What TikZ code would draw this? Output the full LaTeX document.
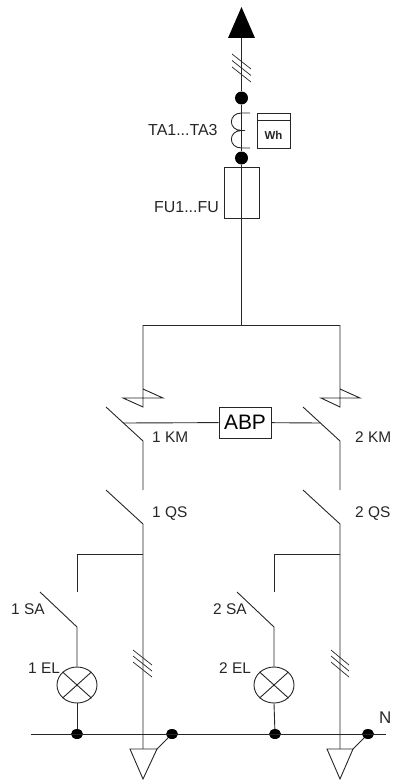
\documentclass[tikz,border=0pt]{standalone}
\usepackage{fontspec}
\usetikzlibrary{shapes.geometric}
\setmainfont{Liberation Sans}
\begin{document}
\begin{tikzpicture}[x=1bp,y=-1bp,
  wire/.style={line width=0.9bp,black!85},
  lab/.style={font=\fontsize{15.5}{15.5}\selectfont,text=black!85,inner sep=0pt,anchor=west},
  dot/.style={circle,fill=black,draw=none,minimum size=13bp,inner sep=0pt},
  busdot/.style={ellipse,fill=black,draw=none,minimum width=12bp,minimum height=10bp,inner sep=0pt},
  boxed/.style={draw=black!85,line width=0.9bp,fill=white,inner sep=0pt},
  lamp/.style={draw=black!85,line width=0.9bp,ellipse,minimum width=40bp,minimum height=36bp,inner sep=0pt}]
\useasboundingbox (0,0) rectangle (395,780);
% coordinates
\coordinate (apex) at (241.5,7);
\coordinate (baseL) at (228,38);
\coordinate (baseR) at (255,38);
\coordinate (base) at (241.5,38);
\node[dot] (d1) at (241.5,98) {};
\node[dot] (d2) at (241.5,158) {};
\coordinate (jn) at (241.5,325);
\coordinate (jl) at (143,325);
\coordinate (jr) at (340,325);
\fill[black] (apex) -- (baseR) -- (baseL) -- cycle;
\draw[wire] (base) -- (d1);
\foreach \y in {54,60.5,67} \draw[wire,line width=0.7bp] (232,\y) -- (251,\y+15);
% coil
\draw[wire] (250,113) -- (241.5,113) .. controls (228,113) and (228,130.5) .. (241.5,130.5)
  -- (245,130.5) -- (241.5,130.5) .. controls (228,130.5) and (228,148) .. (241.5,148) -- (250,148);
% meter
\node[boxed,minimum width=33bp,minimum height=35bp] (wh) at (273.5,130.5) {};
\draw[wire] (wh.west |- 0,120) -- (wh.east |- 0,120);
\node[inner sep=0pt,font=\fontsize{11.5}{12}\selectfont\bfseries,text=black!85] (twh) at (273.5,135) {Wh};
% fuse
\node[boxed,fill=none,minimum width=35bp,minimum height=51bp] (fuse) at (241.5,192.5) {};
\draw[wire] (d1) -- (d2) -- (jn);
\draw[wire] (jl) -- (jr);
% left KM
\coordinate (z1a) at (143,407); \coordinate (z1b) at (143,389);
\draw[wire] (jl) -- (z1a) -- (123,398) -- (163,398) -- (z1b);
\coordinate (s1t) at (106,407); \coordinate (s1b) at (143,441);
\coordinate (s1e) at (143,490);
\draw[wire] (s1t) -- (s1b) -- (s1e);
% right KM
\coordinate (z2a) at (340,407); \coordinate (z2b) at (340,389);
\draw[wire] (jr) -- (z2a) -- (321,398) -- (360,398) -- (z2b);
\coordinate (s2t) at (303,407); \coordinate (s2b) at (340,441);
\coordinate (s2e) at (340,490);
\draw[wire] (s2t) -- (s2b) -- (s2e);
% ABP
\node[boxed,minimum width=52bp,minimum height=31bp,font=\fontsize{21}{21}\selectfont,text=black] (abp) at (245,422.5) {ABP};
\coordinate (m1) at (123,423); \coordinate (m2) at (320,423);
\draw[wire] (m1) -- (abp);
\draw[wire] (abp) -- (m2);
% QS left branch
\coordinate (q1t) at (106,490); \coordinate (q1b) at (143,524);
\coordinate (g1) at (143,749);
\draw[wire] (q1t) -- (q1b) -- (g1);
\coordinate (b1) at (143,554);
\draw[wire] (b1) -- (77,554) -- (77,592);
\coordinate (sa1t) at (40,592); \coordinate (sa1b) at (77,627);
\node[lamp] (l1) at (77,685) {};
\draw[wire] (sa1t) -- (sa1b) -- (l1.north);
\draw[wire] (l1.north west) -- (l1.south east) (l1.north east) -- (l1.south west);
\node[busdot] (bd1) at (77,734) {};
\node[busdot] (bd2) at (172,734) {};
\draw[wire] (l1.south) -- (bd1);
\foreach \y in {650,656,662} \draw[wire,line width=0.7bp] (133,\y) -- (152,\y+15);
\draw[wire,fill=white] (130,749) -- (157,749) -- (143,779) -- cycle;
\draw[wire] (157,749) -- (bd2);
% QS right branch
\coordinate (q2t) at (303,490); \coordinate (q2b) at (340,524);
\coordinate (g2) at (340,749);
\draw[wire] (q2t) -- (q2b) -- (g2);
\coordinate (b2) at (340,554);
\draw[wire] (b2) -- (274,554) -- (274,592);
\coordinate (sa2t) at (237,592); \coordinate (sa2b) at (274,627);
\node[lamp] (l2) at (274,685) {};
\draw[wire] (sa2t) -- (sa2b) -- (l2.north);
\draw[wire] (l2.north west) -- (l2.south east) (l2.north east) -- (l2.south west);
\node[busdot] (bd3) at (275,734) {};
\node[busdot] (bd4) at (368,734) {};
\draw[wire] (l2.south) -- (bd3);
\foreach \y in {650,656,662} \draw[wire,line width=0.7bp] (331,\y) -- (349,\y+15);
\draw[wire,fill=white] (327,749) -- (353,749) -- (340,779) -- cycle;
\draw[wire] (353,749) -- (bd4);
% bus
\coordinate (busL) at (31,734); \coordinate (busR) at (386,734);
\draw[wire] (busL) -- (busR);
% labels
\node[lab,font=\fontsize{16}{16}\selectfont] (tTA) at (148,130) {TA1...TA3};
\node[lab,font=\fontsize{16}{16}\selectfont] (tFU) at (154,207) {FU1...FU};
\node[lab] (t1KM) at (152,437) {1 KM};
\node[lab] (t2KM) at (355,437) {2 KM};
\node[lab] (t1QS) at (152,514) {1 QS};
\node[lab] (t2QS) at (355,514) {2 QS};
\node[lab] (t1SA) at (11,609) {1 SA};
\node[lab] (t2SA) at (213,609) {2 SA};
\node[lab] (t1EL) at (28,668) {1 EL};
\node[lab] (t2EL) at (219,668) {2 EL};
\node[lab,font=\fontsize{17}{17}\selectfont] (tN) at (379,718) {N};
\end{tikzpicture}
\end{document}
